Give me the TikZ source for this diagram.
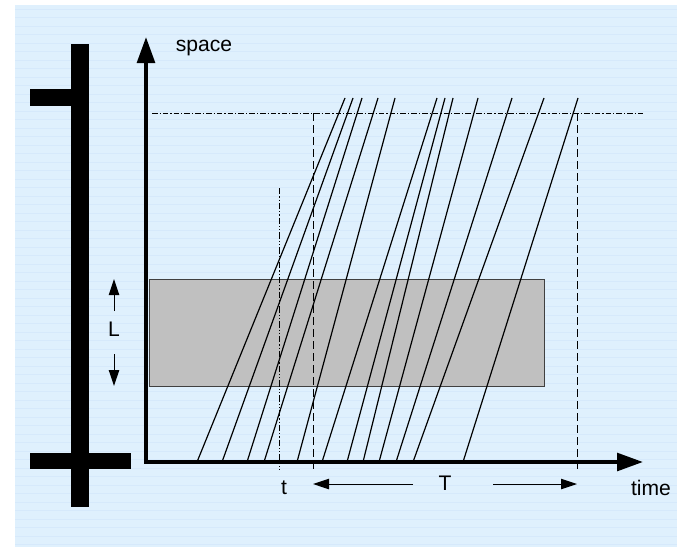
\documentclass[tikz,border=0pt]{standalone}
\usepackage{fontspec}
\setmainfont{Liberation Sans}
\usetikzlibrary{arrows.meta}
\definecolor{panelblue}{RGB}{223,240,253}
\definecolor{stripeblue}{RGB}{214,233,251}
\definecolor{boxgray}{RGB}{192,192,192}
\tikzset{
  axis/.style={line width=2.8pt,{Triangle[length=6.5mm,width=4.4mm]}-{Triangle[length=6.5mm,width=4.4mm]}},
  car/.style={line width=.85pt},
  mark line/.style={line width=.7pt,dash pattern=on 2mm off 1mm},
  small arrow/.style={line width=.7pt,-{Triangle[length=4mm,width=2.6mm]}},
  lbl/.style={anchor=center,inner sep=1pt,font=\fontsize{15}{18}\selectfont}
}
\begin{document}
\begin{tikzpicture}[x=.25mm,y=-.25mm,line width=.5pt]
\path[use as bounding box] (0,0) rectangle (677,547);
\fill[panelblue] (15,5) rectangle (677,547);
\foreach \y in {9,17.5,...,545} \draw[stripeblue,line width=.3pt] (15,\y) -- (677,\y);
% mast
\fill (71,44) rectangle (89,507);
\fill (30,89) rectangle (71,106);
\fill (30,453) rectangle (131,469);
% occupied section
\draw[fill=boxgray,draw=black!75,line width=.7pt] (149,279) rectangle (544,386);
% vehicles
\foreach \b/\e in {197/345,222/353,247/362,264/378,297/395,322/437,347/445,363/453,379/478,396/512,413/544,463/578}
  \draw[car] (\b,462) -- (\e,98);
% marks
\coordinate (O) at (146,462);
\coordinate (spacetip) at (146,37);
\coordinate (timetip) at (643,462);
\coordinate (t0) at (279,188);
\coordinate (t1) at (279,470);
\coordinate (T0a) at (313,113);
\coordinate (T0b) at (313,470);
\coordinate (T1a) at (577,113);
\coordinate (T1b) at (577,470);
\coordinate (topa) at (152,113);
\coordinate (topb) at (643,113);
\draw[line width=.7pt,dash pattern=on 1.4mm off .5mm on .3mm off .5mm] (topa) -- (topb);
\draw[line width=.7pt,dash pattern=on 1.6mm off .5mm on .3mm off .5mm on .3mm off .5mm] (t0) -- (t1);
\draw[mark line] (T0a) -- (T0b);
\draw[mark line] (T1a) -- (T1b);
% axes
\draw[axis] (spacetip) -- (O) -- (timetip);
\node[lbl] (space) at (204,48) {space};
\node[lbl] (time) at (651,488) {time};
\node[lbl] (t) at (284,488) {t};
% length of section
\node[lbl] (L) at (114,329) {L};
\coordinate (Lup) at (114,311);
\coordinate (Ltop) at (114,279);
\coordinate (Ldown) at (114,354);
\coordinate (Lbot) at (114,386);
\draw[small arrow] (Lup) -- (Ltop);
\draw[small arrow] (Ldown) -- (Lbot);
% period
\node[lbl] (T) at (445,483) {T};
\coordinate (Tl) at (413,484);
\coordinate (Tla) at (313,484);
\coordinate (Tr) at (493,484);
\coordinate (Tra) at (577,484);
\draw[small arrow] (Tl) -- (Tla);
\draw[small arrow] (Tr) -- (Tra);
\end{tikzpicture}
\end{document}
